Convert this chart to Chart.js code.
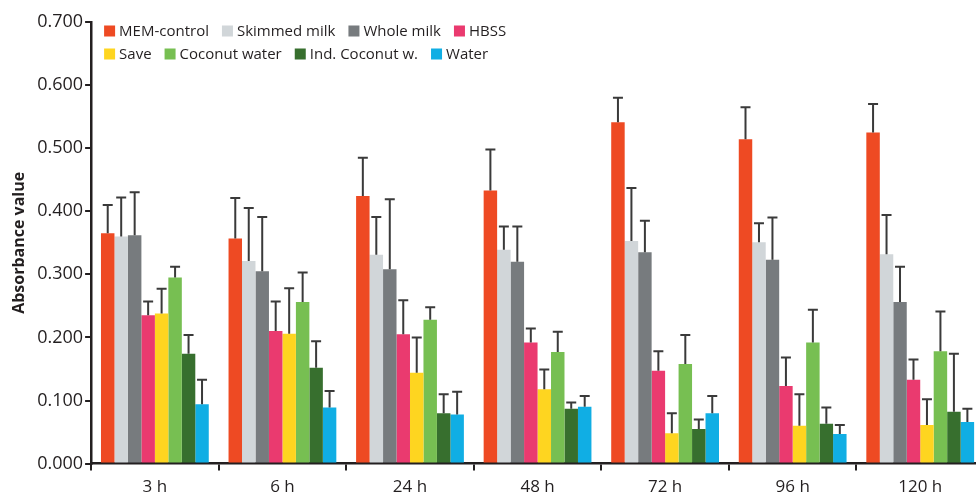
<!DOCTYPE html>
<html lang="en">

<head>
    <meta charset="UTF-8">
    <title>Absorbance value</title>
    <style>
        body {
            margin: 0;
            padding: 0;
            background-color: #ffffff;
            overflow: hidden;
        }

        #chartContainer {
            position: relative;
            width: 990px;
            height: 503px;
        }
    </style>
    <script src="https://cdn.jsdelivr.net/npm/chart.js"></script>
</head>

<body>

    <div id="chartContainer">
        <canvas id="absChart"></canvas>
    </div>

    <script>
        const timePoints = ['3 h', '6 h', '24 h', '48 h', '72 h', '96 h', '120 h'];
        const yTicks = [0, 0.1, 0.2, 0.3, 0.4, 0.5, 0.6, 0.7];

        const seriesNames = ['MEM-control', 'Skimmed milk', 'Whole milk', 'HBSS',
            'Save', 'Coconut water', 'Ind. Coconut w.', 'Water'];
        const seriesColors = ['#ee4a23', '#d1d6d9', '#777b7e', '#ea3a6f',
            '#fed520', '#77bf52', '#376f2e', '#10aee4'];

        // mean absorbance per time point
        const memControl = [0.365, 0.357, 0.424, 0.433, 0.541, 0.514, 0.525];
        const skimmedMilk = [0.360, 0.321, 0.331, 0.339, 0.353, 0.351, 0.332];
        const wholeMilk = [0.362, 0.305, 0.308, 0.320, 0.335, 0.323, 0.256];
        const hbss = [0.235, 0.210, 0.205, 0.192, 0.147, 0.123, 0.133];
        const save = [0.238, 0.206, 0.144, 0.118, 0.048, 0.060, 0.061];
        const coconutWater = [0.295, 0.256, 0.228, 0.177, 0.158, 0.192, 0.178];
        const indCoconut = [0.174, 0.152, 0.080, 0.087, 0.055, 0.063, 0.082];
        const water = [0.094, 0.089, 0.078, 0.090, 0.080, 0.047, 0.066];

        // standard deviations (upper error bars only)
        const memControlSd = [0.045, 0.064, 0.061, 0.065, 0.039, 0.051, 0.045];
        const skimmedMilkSd = [0.062, 0.084, 0.060, 0.037, 0.084, 0.030, 0.062];
        const wholeMilkSd = [0.068, 0.086, 0.111, 0.056, 0.050, 0.067, 0.056];
        const hbssSd = [0.022, 0.047, 0.054, 0.022, 0.031, 0.045, 0.032];
        const saveSd = [0.039, 0.072, 0.056, 0.031, 0.032, 0.050, 0.041];
        const coconutWaterSd = [0.017, 0.047, 0.020, 0.032, 0.046, 0.052, 0.063];
        const indCoconutSd = [0.030, 0.042, 0.030, 0.010, 0.015, 0.026, 0.092];
        const waterSd = [0.039, 0.026, 0.036, 0.017, 0.027, 0.014, 0.021];

        const means = [memControl, skimmedMilk, wholeMilk, hbss, save, coconutWater, indCoconut, water];
        const sds = [memControlSd, skimmedMilkSd, wholeMilkSd, hbssSd, saveSd, coconutWaterSd, indCoconutSd, waterSd];

        const axisColor = '#231f20';
        const fontFamily = '"Open Sans", Arial, sans-serif';

        // error bars: line from bar top up to mean + sd, with a small cap
        const errorBarPlugin = {
            id: 'errorBars',
            afterDatasetsDraw(chart) {
                const ctx = chart.ctx;
                const yScale = chart.scales.y;
                ctx.save();
                ctx.strokeStyle = '#3a3a3a';
                ctx.lineWidth = 2;
                chart.data.datasets.forEach((ds, di) => {
                    const meta = chart.getDatasetMeta(di);
                    meta.data.forEach((bar, i) => {
                        const top = yScale.getPixelForValue(ds.data[i] + ds.sd[i]);
                        ctx.beginPath();
                        ctx.moveTo(bar.x, bar.y);
                        ctx.lineTo(bar.x, top);
                        ctx.moveTo(bar.x - 5, top);
                        ctx.lineTo(bar.x + 5, top);
                        ctx.stroke();
                    });
                });
                ctx.restore();
            }
        };

        // legend drawn inside the plot area, two rows of four
        const insideLegendPlugin = {
            id: 'insideLegend',
            afterDraw(chart) {
                const ctx = chart.ctx;
                const area = chart.chartArea;
                const perRow = 4;
                let x = 0;
                ctx.save();
                ctx.font = '15px ' + fontFamily;
                ctx.textBaseline = 'middle';
                chart.data.datasets.forEach((ds, i) => {
                    const row = Math.floor(i / perRow);
                    if (i % perRow === 0) {
                        x = area.left + 13;
                    }
                    const cy = 31 + row * 23;
                    ctx.fillStyle = ds.backgroundColor;
                    ctx.fillRect(x, cy - 5.5, 11, 11);
                    ctx.fillStyle = axisColor;
                    ctx.fillText(ds.label, x + 15, cy + 1);
                    x += 15 + ctx.measureText(ds.label).width + 13;
                });
                ctx.restore();
            }
        };

        const ctx = document.getElementById('absChart').getContext('2d');
        new Chart(ctx, {
            type: 'bar',
            data: {
                labels: timePoints,
                datasets: seriesNames.map((name, i) => ({
                    label: name,
                    data: means[i],
                    sd: sds[i],
                    backgroundColor: seriesColors[i],
                    borderWidth: 0,
                    barPercentage: 1,
                    categoryPercentage: 0.845
                }))
            },
            options: {
                responsive: true,
                maintainAspectRatio: false,
                animation: false,
                layout: { padding: { top: 22, right: 6, left: 10, bottom: 0 } },
                plugins: {
                    legend: { display: false },
                    tooltip: { enabled: false }
                },
                scales: {
                    x: {
                        grid: {
                            display: true,
                            drawOnChartArea: false,
                            offset: true,
                            color: axisColor,
                            lineWidth: 2,
                            tickLength: 7
                        },
                        border: { color: axisColor, width: 2.5 },
                        ticks: {
                            color: axisColor,
                            padding: 6,
                            font: { family: fontFamily, size: 17 }
                        }
                    },
                    y: {
                        min: 0,
                        max: 0.7,
                        afterBuildTicks(scale) {
                            scale.ticks = yTicks.map(v => ({ value: v }));
                        },
                        grid: {
                            display: true,
                            drawOnChartArea: false,
                            color: axisColor,
                            lineWidth: 2,
                            tickLength: 6
                        },
                        border: { color: axisColor, width: 2.5 },
                        ticks: {
                            color: axisColor,
                            padding: 2,
                            font: { family: fontFamily, size: 18 },
                            callback: value => value.toFixed(3)
                        },
                        title: {
                            display: true,
                            text: 'Absorbance value',
                            color: axisColor,
                            padding: { top: 0, bottom: 6 },
                            font: { family: fontFamily, size: 16, weight: 'bold' }
                        }
                    }
                }
            },
            plugins: [errorBarPlugin, insideLegendPlugin]
        });
    </script>

</body>

</html>
